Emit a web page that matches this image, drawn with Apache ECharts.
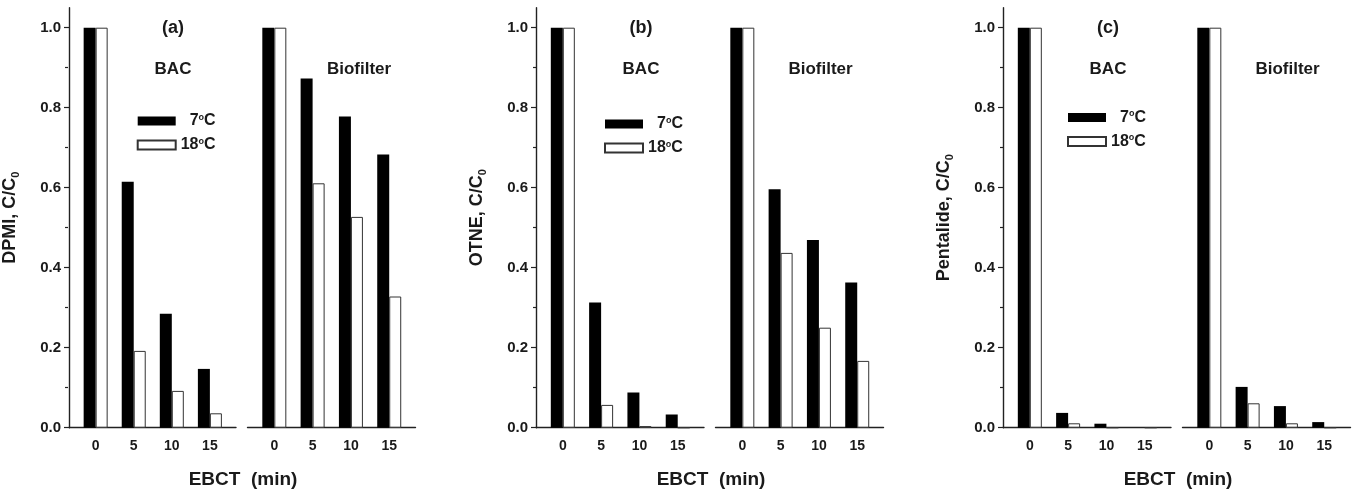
<!DOCTYPE html>
<html>
<head>
<meta charset="utf-8">
<script src="https://cdn.jsdelivr.net/npm/echarts@6/dist/echarts.min.js"></script>
<style>
html,body{margin:0;padding:0;background:#fff;}
#chart{width:1358px;height:491px;}
</style>
</head>
<body>
<div id="chart"></div>
<script>
// ---- data ----
const categories = [0, 5, 10, 15];
const yTicks = [0, 0.2, 0.4, 0.6, 0.8, 1.0];
const yMinorTicks = [0.1, 0.3, 0.5, 0.7, 0.9];
const seriesNames = ['7°C', '18°C'];
const filterNames = ['BAC', 'Biofilter'];
const panelLabels = ['(a)', '(b)', '(c)'];
const compoundNames = ['DPMI', 'OTNE', 'Pentalide'];
const xAxisTitle = 'EBCT  (min)';

const dpmiBac7  = [1.0, 0.615, 0.285, 0.147];
const dpmiBac18 = [1.0, 0.192, 0.092, 0.036];
const dpmiBio7  = [1.0, 0.873, 0.778, 0.683];
const dpmiBio18 = [1.0, 0.611, 0.527, 0.328];

const otneBac7  = [1.0, 0.313, 0.088, 0.033];
const otneBac18 = [1.0, 0.057, 0.004, 0.0];
const otneBio7  = [1.0, 0.596, 0.469, 0.363];
const otneBio18 = [1.0, 0.437, 0.250, 0.167];

const pentBac7  = [1.0, 0.037, 0.010, 0.0];
const pentBac18 = [1.0, 0.011, 0.0, 0.0];
const pentBio7  = [1.0, 0.102, 0.054, 0.014];
const pentBio18 = [1.0, 0.061, 0.011, 0.0];

const panelData = [
  [[dpmiBac7, dpmiBac18], [dpmiBio7, dpmiBio18]],
  [[otneBac7, otneBac18], [otneBio7, otneBio18]],
  [[pentBac7, pentBac18], [pentBio7, pentBio18]]
];

// ---- layout ----
const FONT = '"Liberation Sans", Arial, sans-serif';
const TXT = '#1a1a1a';
const AX = '#222';
const panelX = [68, 536, 1003];
const gridTop = 7.7, gridH = 420, subW = 168, bioOffset = 179.5;
const xMin = -3.5, xMax = 18.43, yMax = 1.05;
const bioLabelX = [359, 820.5, 1287.5];
const legendLeft = [136.7, 604, 1067];
const legendTop = [113, 116, 109.5];

const grids = [], xAxes = [], yAxes = [], series = [], legends = [], graphics = [];

panelX.forEach((X0, p) => {
  const lefts = [X0, X0 + bioOffset];
  lefts.forEach((L, s) => {
    const gi = grids.length;
    grids.push({left: L, top: gridTop, width: subW, height: gridH, containLabel: false});
    xAxes.push({
      gridIndex: gi, type: 'value', min: xMin, max: xMax,
      axisLine: {show: true, onZero: false, lineStyle: {color: AX, width: 1.4}},
      axisTick: {show: false}, splitLine: {show: false},
      axisLabel: {customValues: categories, margin: 11, fontSize: 14, fontWeight: 'bold', color: TXT, fontFamily: FONT}
    });
    if (s === 0) {
      yAxes.push({
        gridIndex: gi, type: 'value', min: 0, max: yMax,
        axisLine: {show: true, onZero: false, lineStyle: {color: AX, width: 1.4}},
        axisTick: {show: true, customValues: yTicks, length: 5, lineStyle: {color: AX, width: 1.2}},
        splitLine: {show: false},
        axisLabel: {customValues: yTicks, margin: 8, fontSize: 15, fontWeight: 'bold', color: TXT, fontFamily: FONT,
          formatter: v => v.toFixed(1)},
        name: '{m|' + compoundNames[p] + ', C/C}{s|0}',
        nameLocation: 'middle', nameGap: 48,
        nameTextStyle: {color: TXT, fontFamily: FONT, rich: {
          m: {fontSize: 18, fontWeight: 'bold', fontFamily: FONT, color: TXT, lineHeight: 22},
          s: {fontSize: 11, fontWeight: 'bold', fontFamily: FONT, color: TXT, lineHeight: 12, verticalAlign: 'bottom'}
        }}
      });
    } else {
      yAxes.push({gridIndex: gi, type: 'value', min: 0, max: yMax, show: false, splitLine: {show: false}});
    }
    const vals = panelData[p][s];
    seriesNames.forEach((nm, k) => {
      series.push({
        type: 'bar', name: nm, xAxisIndex: gi, yAxisIndex: gi,
        barWidth: 12, barGap: '0%',
        data: categories.map((c, i) => [c, vals[k][i]]),
        itemStyle: k === 0 ? {color: '#000', borderColor: '#000', borderWidth: 0}
                           : {color: '#fff', borderColor: '#333', borderWidth: 1},
        emphasis: {disabled: true}, silent: true, animation: false
      });
    });
  });
  // minor ticks grid
  const gm = grids.length;
  grids.push({left: X0, top: gridTop, width: subW, height: gridH});
  xAxes.push({gridIndex: gm, type: 'value', min: xMin, max: xMax, show: false});
  yAxes.push({gridIndex: gm, type: 'value', min: 0, max: yMax,
    axisLine: {show: false, onZero: false}, splitLine: {show: false}, axisLabel: {show: false},
    axisTick: {show: true, customValues: yMinorTicks, length: 3, lineStyle: {color: AX, width: 1.2}}});

  legends.push({
    data: seriesNames, orient: 'vertical', left: legendLeft[p], top: legendTop[p], padding: 0,
    icon: 'rect', itemWidth: 38, itemHeight: 9, itemGap: 8, selectedMode: false,
    formatter: nm => (nm === seriesNames[0] ? '{d1|' : '{d2|') + nm.replace('°C', '') + '}{o|o}{c|C}',
    textStyle: {color: TXT, fontFamily: FONT, rich: {
      d1: {fontSize: 16, fontWeight: 'bold', fontFamily: FONT, color: TXT, lineHeight: 16, padding: [0, 0, 0, 9]},
      d2: {fontSize: 16, fontWeight: 'bold', fontFamily: FONT, color: TXT, lineHeight: 16},
      o: {fontSize: 9, fontWeight: 'bold', fontFamily: FONT, color: TXT, lineHeight: 6, verticalAlign: 'top'},
      c: {fontSize: 16, fontWeight: 'bold', fontFamily: FONT, color: TXT, lineHeight: 16}
    }}
  });

  const tstyle = (txt, x, y, size) => ({
    type: 'text', x: x, y: y, silent: true,
    style: {text: txt, fill: TXT, font: 'bold ' + size + 'px ' + FONT, textAlign: 'center', textVerticalAlign: 'middle'}
  });
  graphics.push(tstyle(panelLabels[p], X0 + 105, 28, 18));
  graphics.push(tstyle(filterNames[0], X0 + 105, 69, 17));
  graphics.push(tstyle(filterNames[1], bioLabelX[p], 69, 17));
  graphics.push(tstyle(xAxisTitle, X0 + 175, 480, 19));
});

const chart = echarts.init(document.getElementById('chart'), null, {renderer: 'canvas'});
chart.setOption({
  animation: false,
  backgroundColor: '#fff',
  grid: grids, xAxis: xAxes, yAxis: yAxes,
  legend: legends, series: series, graphic: graphics
});
</script>
</body>
</html>
